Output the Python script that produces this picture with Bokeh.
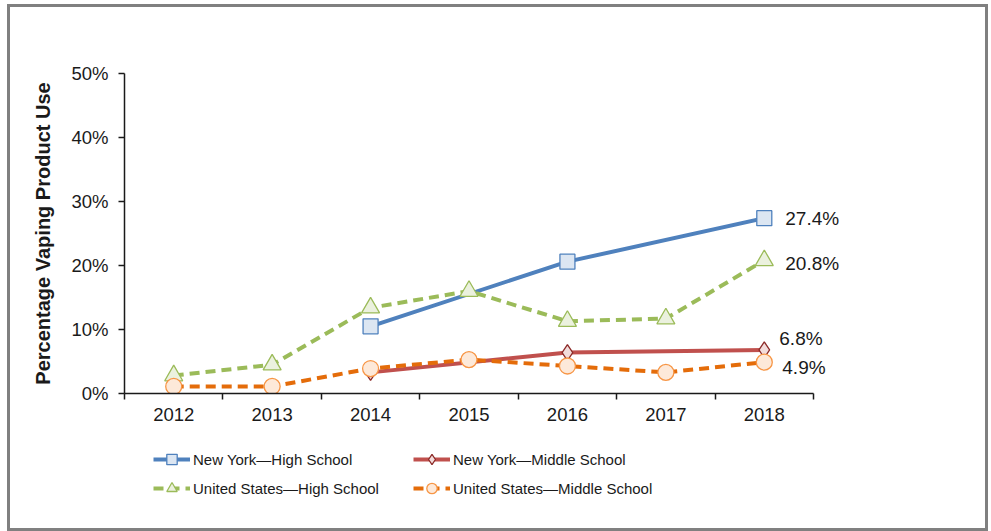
from bokeh.plotting import figure
from bokeh.layouts import column
from bokeh.models import (FixedTicker, PrintfTickFormatter, Legend, LegendItem,
                          ColumnDataSource, Range1d)
from bokeh.embed import file_html
from bokeh.resources import INLINE
from bokeh.core.properties import value

# ---------------- data ----------------
years = [2012, 2013, 2014, 2015, 2016, 2017, 2018]
ny_years = [2014, 2016, 2018]
ny_hs = [10.5, 20.6, 27.4]
ny_ms = [3.3, 6.4, 6.8]
us_hs = [2.8, 4.5, 13.4, 16.0, 11.3, 11.7, 20.8]
us_ms = [1.1, 1.1, 3.9, 5.3, 4.3, 3.3, 4.9]
y_ticks = [0, 10, 20, 30, 40, 50]
series_names = ["New York\u2014High School", "New York\u2014Middle School",
                "United States\u2014High School", "United States\u2014Middle School"]
y_title = "Percentage Vaping Product Use"

# ---------------- styles ----------------
FONT = "Liberation Sans"
TXT = "#1a1a1a"
styles = [
    dict(line="#4F81BD", dash="solid", marker="square", size=15, mfill="#DCE6F2", mline="#4F81BD",
         lab_dx=21, lab_dy=0),
    dict(line="#C0504D", dash="solid", marker="diamond", size=16, mfill="#F2DCDB", mline="#8C2A28",
         lab_dx=15, lab_dy=-11),
    dict(line="#9BBB59", dash="10 6", marker="triangle", size=18, mfill="#EBF1DE", mline="#9BBB59",
         lab_dx=21, lab_dy=3),
    dict(line="#E46C0A", dash="10 6", marker="circle", size=16, mfill="#FDE9D9", mline="#F79646",
         lab_dx=18, lab_dy=5),
]
series = [(ny_years, ny_hs), (ny_years, ny_ms), (years, us_hs), (years, us_ms)]

W = 975
H_MAIN, H_LEG = 436, 85
EXTRA_RIGHT = 0.447  # room inside the frame for the end labels

p = figure(width=W, height=H_MAIN, output_backend="svg", toolbar_location=None,
           x_range=Range1d(years[0] - 0.5, years[-1] + 0.5 + EXTRA_RIGHT),
           y_range=Range1d(y_ticks[0], y_ticks[-1]),
           min_border_left=114, min_border_top=66, min_border_right=128, min_border_bottom=50)
p.outline_line_color = None
p.xgrid.visible = False
p.ygrid.visible = False
p.background_fill_color = "white"
p.border_fill_color = "white"

# x axis: labels at category centres, ticks at boundaries
xa = p.xaxis[0]
xa.bounds = (years[0] - 0.5, years[-1] + 0.5)
xa.ticker = FixedTicker(ticks=years, minor_ticks=[y - 0.5 for y in years] + [years[-1] + 0.5])
xa.formatter = PrintfTickFormatter(format="%d")
xa.major_tick_line_color = None
xa.minor_tick_line_color = TXT
xa.minor_tick_out = 6
xa.minor_tick_in = 0
xa.minor_tick_line_width = 1.5
xa.axis_line_color = TXT
xa.axis_line_width = 1.5
xa.major_label_text_font = FONT
xa.major_label_text_font_size = "18.5px"
xa.major_label_text_color = TXT
xa.major_label_standoff = 8

ya = p.yaxis[0]
ya.ticker = FixedTicker(ticks=y_ticks, minor_ticks=[])
ya.formatter = PrintfTickFormatter(format="%d%%")
ya.major_tick_line_color = TXT
ya.major_tick_out = 6
ya.major_tick_in = 0
ya.major_tick_line_width = 1.5
ya.axis_line_color = TXT
ya.axis_line_width = 1.5
ya.major_label_text_font = FONT
ya.major_label_text_font_size = "18.5px"
ya.major_label_text_color = TXT
ya.major_label_standoff = 10
ya.axis_label = y_title
ya.axis_label_text_font = FONT
ya.axis_label_text_font_style = "bold"
ya.axis_label_text_font_size = "20px"
ya.axis_label_text_color = TXT
ya.axis_label_standoff = 14

# legend figure below the chart (its ranges keep the copied series out of view)
pl = figure(width=W, height=H_LEG, output_backend="svg", toolbar_location=None,
            x_range=Range1d(0, 1), y_range=Range1d(-2, -1),
            x_axis_type=None, y_axis_type=None,
            min_border_left=0, min_border_right=0, min_border_top=0, min_border_bottom=0)
pl.outline_line_color = None
pl.xgrid.visible = False
pl.ygrid.visible = False
pl.border_fill_color = "white"

items = []
for (xs, ys), st, name in zip(series, styles, series_names):
    src = ColumnDataSource(dict(x=xs, y=ys))
    p.line("x", "y", source=src, line_color=st["line"], line_width=4, line_dash=st["dash"])
    p.scatter("x", "y", source=src, marker=st["marker"], size=st["size"],
              fill_color=st["mfill"], line_color=st["mline"], line_width=1.3)
    p.text(x=[xs[-1]], y=[ys[-1]], text=["%.1f%%" % ys[-1]],
           x_offset=st["lab_dx"], y_offset=st["lab_dy"],
           text_font=value(FONT), text_font_size="19px", text_color=TXT,
           text_align="left", text_baseline="middle")
    ln = pl.line("x", "y", source=src, line_color=st["line"], line_width=4,
                 line_dash=st["dash"])
    mk = pl.scatter("x", "y", source=src, marker=st["marker"], size=st["size"],
                    fill_color=st["mfill"], line_color=st["mline"], line_width=1.3)
    items.append(LegendItem(label=name, renderers=[ln, mk]))

lg = Legend(items=items, location=(29, 27), orientation="horizontal", ncols=2,
            glyph_width=37, glyph_height=26, label_height=26, spacing=3,
            label_standoff=3, label_width=217, padding=0, margin=0,
            label_text_font=FONT, label_text_font_size="15px", label_text_color=TXT,
            border_line_color=None, background_fill_alpha=0)
pl.add_layout(lg)

layout = column(p, pl, spacing=0,
                styles={"border": "3px solid #808080", "margin-left": "7px", "margin-top": "4px"})

open("out.html", "w").write(file_html(layout, INLINE))
